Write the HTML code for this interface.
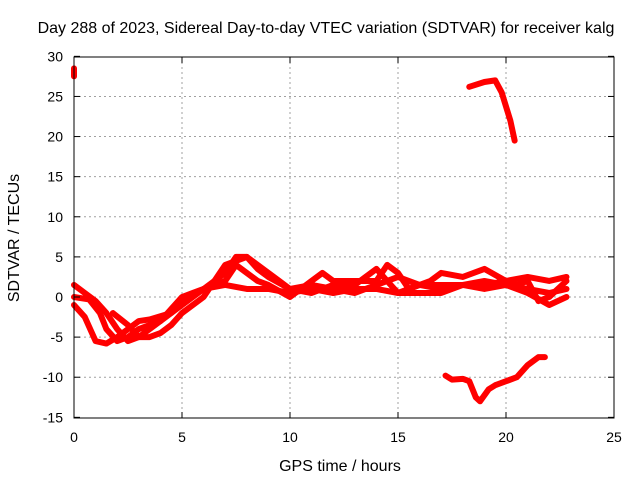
<!DOCTYPE html>
<html><head><meta charset="utf-8"><style>
body{margin:0;background:#fff}
svg{display:block;font-family:"Liberation Sans",sans-serif;font-size:14px}
</style></head><body>
<svg width="640" height="480">
<rect width="640" height="480" fill="#fff"/>
<text x="326" y="33" text-anchor="middle" font-size="16">Day 288 of 2023, Sidereal Day-to-day VTEC variation (SDTVAR) for receiver kalg</text>
<g id="grid"></g>
<g id="series"></g>
<rect x="74" y="57" width="540" height="361" fill="none" stroke="#000" stroke-width="1"/>
<g id="ticks"></g>
<text x="340" y="471" text-anchor="middle" font-size="16">GPS time / hours</text>
<text transform="translate(19,238) rotate(-90)" text-anchor="middle" font-size="16">SDTVAR / TECUs</text>
</svg>
<script>
const xTicks=[0,5,10,15,20,25];
const yTicks=[-15,-10,-5,0,5,10,15,20,25,30];
const s1=[[0,1.5],[0.5,0.5],[1,-0.5],[1.5,-2],[2,-4],[2.5,-5.5],[3,-5],[3.5,-4],[4,-3],[4.5,-1.5],[5,0],[5.5,0.5],[6,1],[7,1.5],[8,1],[9,1],[10,0.5],[11,1],[12,0.5],[13,1],[14,1],[15,0.5],[16,1.5],[17,1.5],[18,1.5],[19,2],[20,1.5],[21,1],[22,0.5],[22.8,1]];
const s2=[[0,0],[0.7,-0.3],[1.2,-2],[1.5,-4],[2,-5.5],[2.5,-5],[3,-4],[4,-3],[5,-1],[6,1],[7,3],[7.5,5],[8,5],[8.5,3.5],[9,2.5],[10,1],[11,1.5],[12,1],[13,0.5],[14,1.5],[15,2.5],[16,1.5],[17,1],[18,1.5],[19,1.5],[20,2],[20.5,1.5],[21,2],[21.5,-0.5],[22,0],[22.8,2]];
const s3=[[0,-1],[0.5,-2.5],[1,-5.5],[1.5,-5.8],[2,-5],[3,-3],[3.5,-2.8],[4.5,-2],[5,-0.5],[6,1],[7,2],[7.5,4],[8,3],[8.5,2],[9,1.5],[10,0],[11,2],[11.5,3],[12,2],[13,2],[14,2],[14.5,4],[15,3],[15.5,1],[16.5,2],[17,3],[18,2.5],[19,3.5],[20,2],[21,2.5],[22,2],[22.8,2.5]];
const s4=[[1.8,-2],[2.5,-3.5],[3,-5],[3.5,-5],[4,-4.5],[4.5,-3.5],[5,-2],[6,0],[7,4],[8,5],[8.5,4],[9,3],[9.5,2],[10,1],[11,0.5],[12,1.5],[13,1.5],[14,3.5],[14.5,2],[15,0.5],[16,0.5],[17,0.5],[18,1.5],[19,1],[20,1.5],[21,0.5],[22,-1],[22.8,0]];
const sUpper=[[18.3,26.2],[19,26.8],[19.5,27],[19.8,25.5],[20.2,22],[20.4,19.5]];
const sLower=[[17.2,-9.8],[17.5,-10.3],[18,-10.2],[18.3,-10.5],[18.6,-12.5],[18.8,-13],[19.2,-11.5],[19.5,-11],[20,-10.5],[20.5,-10],[21,-8.5],[21.5,-7.5],[21.8,-7.5]];
const sTop=[[0,28.5],[0,28],[0,27.5]];
const allSeries=[s1,s2,s3,s4,sUpper,sLower,sTop];
const NS="http://www.w3.org/2000/svg";
const X=h=>74+h*21.6, Y=v=>297-v*(361/45);
const grid=document.getElementById('grid'),ticks=document.getElementById('ticks'),ser=document.getElementById('series');
function mk(tag,attrs,parent){const e=document.createElementNS(NS,tag);for(const k in attrs)e.setAttribute(k,attrs[k]);parent.appendChild(e);return e;}
xTicks.forEach(t=>{
 if(t>0&&t<25){const g=mk('line',{x1:X(t),x2:X(t),y1:57,y2:418,stroke:'#a0a0a0','stroke-dasharray':'2,3'},grid);
 
 }
 mk('line',{x1:X(t),x2:X(t),y1:418,y2:412,stroke:'#000'},ticks);
 mk('line',{x1:X(t),x2:X(t),y1:57,y2:63,stroke:'#000'},ticks);
 const l=mk('text',{x:X(t),y:442,'text-anchor':'middle'},ticks);l.textContent=t;
 
 
});
yTicks.forEach(t=>{
 if(t>-15&&t<30){const g=mk('line',{x1:74,x2:614,y1:Y(t),y2:Y(t),stroke:'#a0a0a0','stroke-dasharray':'2,3'},grid);
 
 }
 mk('line',{x1:74,x2:80,y1:Y(t),y2:Y(t),stroke:'#000'},ticks);
 mk('line',{x1:614,x2:608,y1:Y(t),y2:Y(t),stroke:'#000'},ticks);
 const l=mk('text',{x:63,y:Y(t)+5,'text-anchor':'end'},ticks);l.textContent=t;
 
 
});
allSeries.forEach((s,i)=>{
 const p=mk('polyline',{points:s.map(d=>X(d[0])+','+Y(d[1])).join(' '),fill:'none',stroke:'#f00','stroke-width':6,'stroke-linejoin':'round','stroke-linecap':'round'},ser);
 
 
});
</script>
</body></html>
